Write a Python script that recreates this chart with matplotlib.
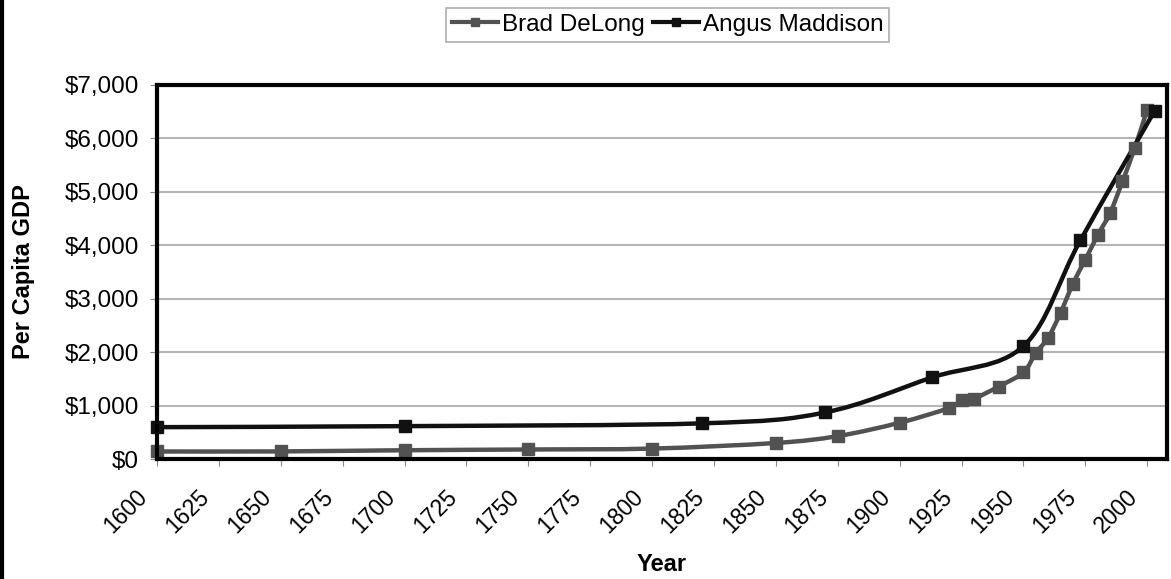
import numpy as np
import matplotlib.pyplot as plt
from matplotlib.path import Path
from matplotlib.patches import PathPatch
from matplotlib.lines import Line2D
from matplotlib.ticker import FuncFormatter
from matplotlib.transforms import ScaledTranslation

plt.rcParams['font.family'] = ['Liberation Sans', 'DejaVu Sans']

# Brad DeLong series
delong_years = [1600, 1650, 1700, 1750, 1800, 1850, 1875, 1900, 1920, 1925, 1930, 1940,
                1950, 1955, 1960, 1965, 1970, 1975, 1980, 1985, 1990, 1995, 2000]
delong_gdp = [141, 142, 164, 178, 195, 300, 429, 679, 956, 1108, 1130, 1356,
              1622, 1984, 2270, 2736, 3282, 3729, 4188, 4604, 5194, 5824, 6539]

# Angus Maddison series
maddison_years = [1600, 1700, 1820, 1870, 1913, 1950, 1973, 2003]
maddison_gdp = [596, 615, 667, 873, 1526, 2113, 4091, 6516]

xticks = list(range(1600, 2001, 25))
yticks = list(range(0, 7001, 1000))


def smooth_path(xs, ys):
    # Excel-style smoothed line: Bezier segments through each point
    pts = np.column_stack([xs, ys]).astype(float)
    n = len(pts)
    verts = [pts[0]]
    codes = [Path.MOVETO]
    for i in range(n - 1):
        p0 = pts[max(i - 1, 0)]
        p1 = pts[i]
        p2 = pts[i + 1]
        p3 = pts[min(i + 2, n - 1)]
        c1 = p1 + (p2 - p0) / 6.0
        c2 = p2 - (p3 - p1) / 6.0
        verts += [c1, c2, p2]
        codes += [Path.CURVE4] * 3
    return Path(verts, codes)


fig = plt.figure(figsize=(11.71, 5.79), dpi=100)
ax = fig.add_axes([157 / 1171, 1 - 459 / 579, (1167 - 157) / 1171, (459 - 85) / 579])

series = [
    ("Brad DeLong", delong_years, delong_gdp, "#525252"),
    ("Angus Maddison", maddison_years, maddison_gdp, "#111111"),
]
handles = []
for name, xs, ys, col in series:
    ax.add_patch(PathPatch(smooth_path(xs, ys), facecolor="none", edgecolor=col,
                           lw=3.2, zorder=3, clip_on=False))
    ax.plot(xs, ys, ls="none", marker="s", ms=8, color=col, zorder=4, clip_on=False)
    handles.append(Line2D([], [], color=col, lw=3, marker="s", ms=6))

ax.set_xlim(1600, 2008)
ax.set_ylim(0, 7000)
ax.set_xticks(xticks)
ax.set_yticks(yticks)
ax.yaxis.set_major_formatter(FuncFormatter(lambda v, p: "${:,.0f}".format(v)))
ax.tick_params(axis="x", labelsize=16.5, rotation=45, length=5, color="#888888", pad=4)
ax.tick_params(axis="y", labelsize=17.5, length=5, color="#888888", pad=8)
shift = ScaledTranslation(-0.21, -0.14, fig.dpi_scale_trans)
for lab in ax.get_xticklabels():
    lab.set_ha("right")
    lab.set_rotation_mode("anchor")
    lab.set_transform(lab.get_transform() + shift)
ax.grid(axis="y", color="#b5b5b5", lw=1.5)
ax.set_axisbelow(True)
for s in ax.spines.values():
    s.set_linewidth(3)
    s.set_color("black")
    s.set_zorder(5)

ax.set_xlabel("Year", fontsize=17, fontweight="bold", labelpad=11)
ax.set_ylabel("Per Capita GDP", fontsize=17, fontweight="bold", labelpad=21)

leg = fig.legend(handles, [s[0] for s in series], loc="center", bbox_to_anchor=(0.570, 0.957),
                 ncol=2, fontsize=17.5, frameon=True, fancybox=False, handlelength=1.9,
                 handletextpad=0.15, columnspacing=0.35, borderpad=0.25)
leg.get_frame().set_edgecolor("#999999")
leg.get_frame().set_linewidth(1.2)

# left border of the original chart area
fig.add_artist(Line2D([0.0015, 0.0015], [0, 1], color="black", lw=3, transform=fig.transFigure))

fig.savefig("out.png", dpi=100)
